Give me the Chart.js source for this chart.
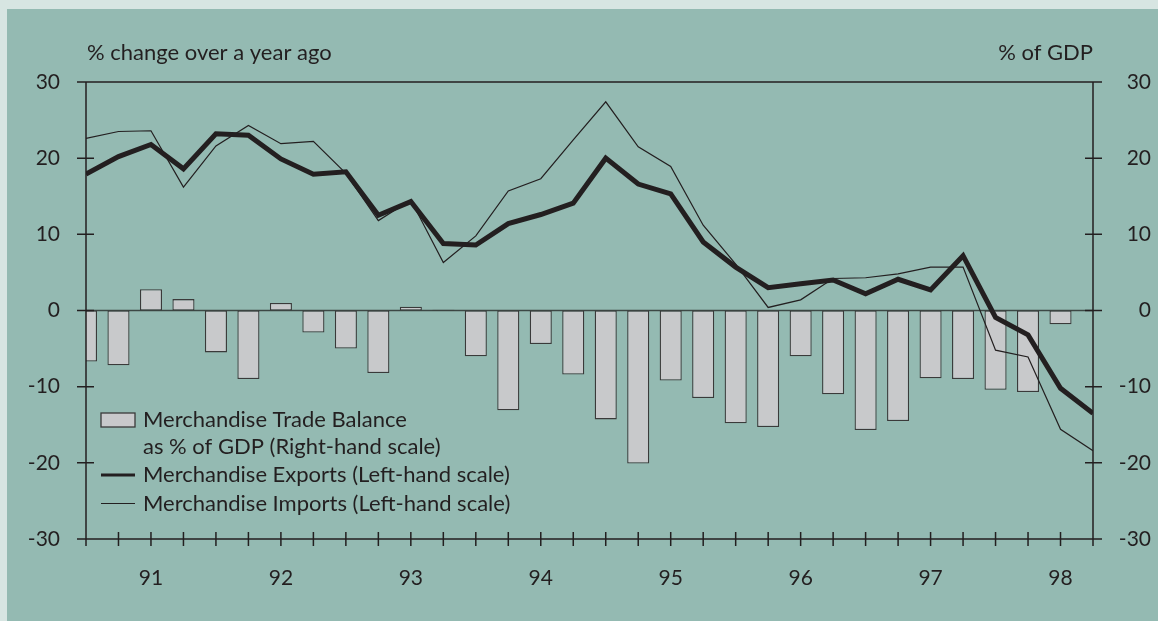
<!DOCTYPE html>
<html>
<head>
<meta charset="utf-8">
<script src="https://cdn.jsdelivr.net/npm/chart.js@4.4.1/dist/chart.umd.min.js"></script>
<style>
  html, body { margin: 0; padding: 0; background: #d7e5e2; }
  #wrap { position: absolute; left: 7px; top: 9px; width: 1151px; height: 612px; background: #94bab2; }
</style>
</head>
<body>
<div id="wrap"><canvas id="myChart" width="1151" height="612"></canvas></div>
<script>
const quarters = [
  "90Q3", "90Q4",
  "91Q1", "91Q2", "91Q3", "91Q4",
  "92Q1", "92Q2", "92Q3", "92Q4",
  "93Q1", "93Q2", "93Q3", "93Q4",
  "94Q1", "94Q2", "94Q3", "94Q4",
  "95Q1", "95Q2", "95Q3", "95Q4",
  "96Q1", "96Q2", "96Q3", "96Q4",
  "97Q1", "97Q2", "97Q3", "97Q4",
  "98Q1", "98Q2",
];
const exportsGrowth = [
  17.9, 20.2, 21.8, 18.6, 23.2, 23.0, 19.9, 17.9, 18.2, 12.5, 14.3, 8.8,
  8.6, 11.4, 12.6, 14.1, 20.0, 16.6, 15.3, 9.0, 5.7, 3.0, 3.5, 4.0,
  2.2, 4.1, 2.7, 7.2, -0.9, -3.2, -10.2, -13.5,
];
const importsGrowth = [
  22.6, 23.5, 23.6, 16.2, 21.6, 24.3, 21.9, 22.2, 18.0, 11.8, 14.5, 6.3,
  9.8, 15.7, 17.3, 22.4, 27.4, 21.5, 18.9, 11.2, 6.1, 0.4, 1.4, 4.2,
  4.3, 4.8, 5.7, 5.7, -5.2, -6.1, -15.6, -18.4,
];
const tradeBalance = [
  -6.7, -7.2, 2.8, 1.5, -5.5, -9.0, 1.0, -2.9, -5.0, -8.2, 0.5, 0.1,
  -6.0, -13.1, -4.4, -8.4, -14.3, -20.1, -9.2, -11.5, -14.8, -15.3, -6.0, -11.0,
  -15.7, -14.5, -8.9, -9.0, -10.4, -10.7, -1.8, null,
];
const yTicks = [-30, -20, -10, 0, 10, 20, 30];

const ink = "#231f20";
const font = "Lato";

// frame, crossing tick marks, zero line, axis titles and legend
const frame = {
  id: "frame",
  beforeDatasetsDraw(chart) {
    const { ctx, chartArea: a } = chart;
    const y0 = chart.scales.y.getPixelForValue(0);
    ctx.save();
    ctx.strokeStyle = "#3c4845";
    ctx.lineWidth = 1.5;
    ctx.beginPath();
    ctx.moveTo(a.left, y0);
    ctx.lineTo(a.right, y0);
    ctx.stroke();
    ctx.restore();
  },
  afterDraw(chart) {
    const { ctx, chartArea: a } = chart;
    const x = chart.scales.x;
    const y = chart.scales.y;
    ctx.save();
    ctx.strokeStyle = ink;
    ctx.lineWidth = 1.5;
    ctx.beginPath();
    ctx.moveTo(a.left, a.top);
    ctx.lineTo(a.right, a.top);
    ctx.moveTo(a.left, a.top);
    ctx.lineTo(a.left, a.bottom);
    ctx.moveTo(a.right, a.top);
    ctx.lineTo(a.right, a.bottom);
    ctx.moveTo(a.left, a.bottom);
    ctx.lineTo(a.right, a.bottom);
    quarters.forEach((q, i) => {
      const px = x.getPixelForValue(i);
      ctx.moveTo(px, a.bottom - 7);
      ctx.lineTo(px, a.bottom + 7);
    });
    yTicks.forEach((v) => {
      const py = y.getPixelForValue(v);
      ctx.moveTo(a.left - 9, py);
      ctx.lineTo(a.left + 8, py);
      ctx.moveTo(a.right - 8, py);
      ctx.lineTo(a.right + 9, py);
    });
    ctx.stroke();

    ctx.fillStyle = ink;
    ctx.font = "22px " + font;
    ctx.textBaseline = "middle";
    ctx.textAlign = "left";
    ctx.fillText("% change over a year ago", a.left + 1, 44);
    ctx.textAlign = "right";
    ctx.fillText("% of GDP", a.right, 44);

    // legend
    const lx = 94, tx = 136;
    ctx.textAlign = "left";
    const bar = chart.data.datasets[2];
    ctx.fillStyle = bar.backgroundColor;
    ctx.fillRect(lx, 404, 34, 14);
    ctx.strokeStyle = bar.borderColor;
    ctx.lineWidth = 1.3;
    ctx.strokeRect(lx, 404, 34, 14);
    ctx.fillStyle = ink;
    bar.label.forEach((t, i) => ctx.fillText(t, tx, 411 + i * 27));
    [0, 1].forEach((d, i) => {
      const ds = chart.data.datasets[d];
      const ly = 466 + i * 28.5;
      ctx.strokeStyle = ds.borderColor;
      ctx.lineWidth = d === 0 ? 3 : 1.2;
      ctx.beginPath();
      ctx.moveTo(lx, ly);
      ctx.lineTo(lx + 34, ly);
      ctx.stroke();
      ctx.fillText(ds.label, tx, ly);
    });
    ctx.restore();
  },
};

new Chart("myChart", {
  type: "bar",
  data: {
    labels: quarters,
    datasets: [
      {
        type: "line",
        label: "Merchandise Exports (Left-hand scale)",
        data: exportsGrowth,
        yAxisID: "y",
        borderColor: ink,
        borderWidth: 5,
        pointRadius: 0,
        tension: 0,
        clip: 0,
        order: 1,
      },
      {
        type: "line",
        label: "Merchandise Imports (Left-hand scale)",
        data: importsGrowth,
        yAxisID: "y",
        borderColor: ink,
        borderWidth: 1.2,
        pointRadius: 0,
        tension: 0,
        clip: 0,
        order: 2,
      },
      {
        label: ["Merchandise Trade Balance", "as % of GDP (Right-hand scale)"],
        data: tradeBalance,
        yAxisID: "y1",
        backgroundColor: "#c8c9cb",
        borderColor: "#3a3a3a",
        borderWidth: 1.3,
        borderSkipped: false,
        barPercentage: 0.68,
        categoryPercentage: 1,
        clip: 0,
        order: 3,
      },
    ],
  },
  options: {
    responsive: false,
    animation: false,
    layout: { padding: { top: 73, right: 7, left: 0, bottom: 0 } },
    plugins: {
      legend: { display: false },
      tooltip: { enabled: false },
    },
    scales: {
      x: {
        offset: false,
        grid: { display: false, drawTicks: false },
        border: { display: false },
        afterFit: (s) => { s.height = 82; },
        ticks: {
          autoSkip: false,
          maxRotation: 0,
          padding: 27,
          color: ink,
          font: { family: font, size: 21 },
          callback: (v, i) => (quarters[i].endsWith("Q1") ? quarters[i].slice(0, 2) : ""),
        },
      },
      y: {
        position: "left",
        min: -30,
        max: 30,
        grid: { display: false, drawTicks: false },
        border: { display: false },
        afterFit: (s) => { s.width = 79; },
        afterBuildTicks: (s) => { s.ticks = yTicks.map((v) => ({ value: v })); },
        ticks: { padding: 26, color: ink, font: { family: font, size: 21 } },
      },
      y1: {
        position: "right",
        min: -30,
        max: 30,
        grid: { display: false, drawTicks: false },
        border: { display: false },
        afterFit: (s) => { s.width = 58; },
        afterBuildTicks: (s) => { s.ticks = yTicks.map((v) => ({ value: v })); },
        ticks: { crossAlign: "far", padding: 26, color: ink, font: { family: font, size: 21 } },
      },
    },
  },
  plugins: [frame],
});
</script>
</body>
</html>
